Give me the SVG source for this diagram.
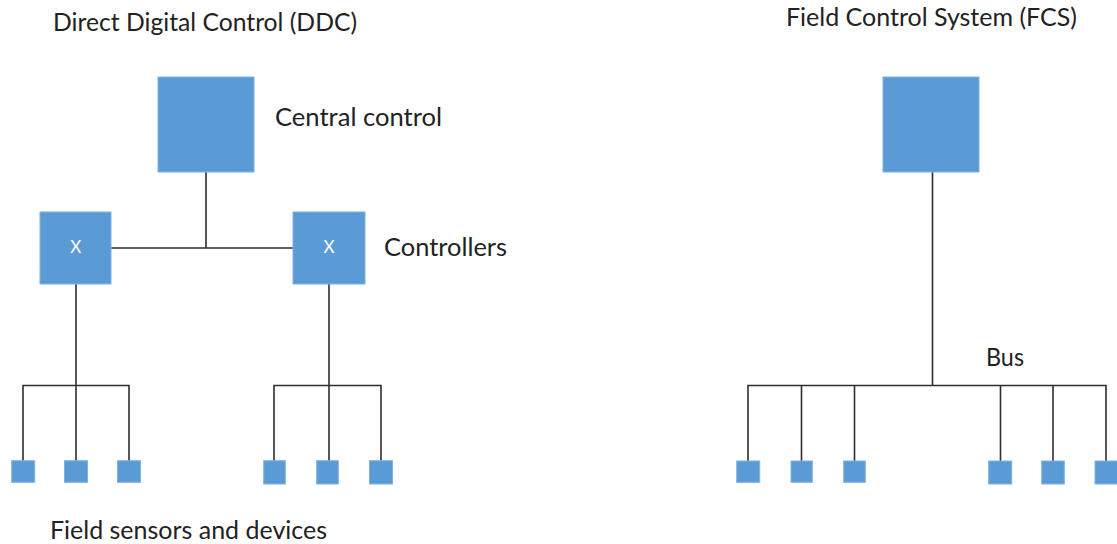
<svg xmlns="http://www.w3.org/2000/svg" width="1117" height="544" viewBox="0 0 1117 544">
  <style>
    .box { fill: #5b9bd5; stroke: #80b2e0; stroke-width: 1; }
    .wire { fill: none; stroke: #2e2e2e; stroke-width: 1.6; }
    .label { font-family: Lato, "Liberation Sans", sans-serif; font-size: 25px; fill: #222222; }
    .mark { font-family: Lato, "Liberation Sans", sans-serif; font-size: 17px; fill: #ffffff; text-anchor: middle; }
  </style>
  <rect width="1117" height="544" fill="#ffffff"/>

  <!-- connectors -->
  <g id="connectors" class="wire">
    <!-- DDC: central control to controllers -->
    <path d="M206 172 V248 M111 248 H293"/>
    <!-- DDC: left controller fan-out -->
    <path d="M76 284 V461 M23 461 V385.5 H129 V461"/>
    <!-- DDC: right controller fan-out -->
    <path d="M329 284 V461 M274 461 V385.5 H381 V461"/>
    <!-- FCS: central system down to the bus -->
    <path d="M932.5 172 V385.5"/>
    <!-- FCS: bus with drops to devices -->
    <path d="M748 461 V385.5 H1106 V461 M801.5 385.5 V461 M854.5 385.5 V461 M1000.5 385.5 V461 M1053 385.5 V461"/>
  </g>

  <!-- titles -->
  <g id="titles">
    <text class="label" x="53" y="31" textLength="304" lengthAdjust="spacingAndGlyphs">Direct Digital Control (DDC)</text>
    <text class="label" x="786" y="25.5" textLength="291" lengthAdjust="spacingAndGlyphs">Field Control System (FCS)</text>
  </g>

  <!-- DDC side -->
  <g id="ddc-central">
    <rect class="box" x="158" y="77" width="96" height="95"/>
    <text class="label" x="275" y="126" textLength="167" lengthAdjust="spacingAndGlyphs">Central control</text>
  </g>
  <g id="ddc-controller-left">
    <rect class="box" x="40" y="212" width="71" height="72"/>
    <text class="mark" x="75.7" y="253.3">X</text>
  </g>
  <g id="ddc-controller-right">
    <rect class="box" x="293" y="212" width="72" height="72"/>
    <text class="mark" x="329" y="253.3">X</text>
    <text class="label" x="384" y="256" textLength="123" lengthAdjust="spacingAndGlyphs">Controllers</text>
  </g>
  <g id="ddc-device-1"><rect class="box" x="11.7" y="460.7" width="23" height="21.6"/></g>
  <g id="ddc-device-2"><rect class="box" x="64.5" y="460.7" width="23" height="21.6"/></g>
  <g id="ddc-device-3"><rect class="box" x="117.5" y="460.7" width="23" height="21.6"/></g>
  <g id="ddc-device-4"><rect class="box" x="263.7" y="460.7" width="21.6" height="23.3"/></g>
  <g id="ddc-device-5"><rect class="box" x="316.7" y="460.7" width="21.6" height="23.3"/></g>
  <g id="ddc-device-6"><rect class="box" x="369.5" y="460.7" width="23" height="23.3"/></g>
  <g id="ddc-devices-caption">
    <text class="label" x="50" y="539.3" textLength="277" lengthAdjust="spacingAndGlyphs">Field sensors and devices</text>
  </g>

  <!-- FCS side -->
  <g id="fcs-central">
    <rect class="box" x="883" y="77" width="96" height="95"/>
  </g>
  <g id="fcs-bus-label">
    <text class="label" x="986" y="365.7" textLength="38" lengthAdjust="spacingAndGlyphs">Bus</text>
  </g>
  <g id="fcs-device-1"><rect class="box" x="736.7" y="461" width="23" height="21.3"/></g>
  <g id="fcs-device-2"><rect class="box" x="791" y="461" width="21.3" height="21.3"/></g>
  <g id="fcs-device-3"><rect class="box" x="843.7" y="461" width="21.6" height="21.3"/></g>
  <g id="fcs-device-4"><rect class="box" x="988.7" y="461" width="23" height="23"/></g>
  <g id="fcs-device-5"><rect class="box" x="1041.7" y="461" width="22.6" height="23"/></g>
  <g id="fcs-device-6"><rect class="box" x="1095" y="461" width="23" height="23"/></g>
</svg>
